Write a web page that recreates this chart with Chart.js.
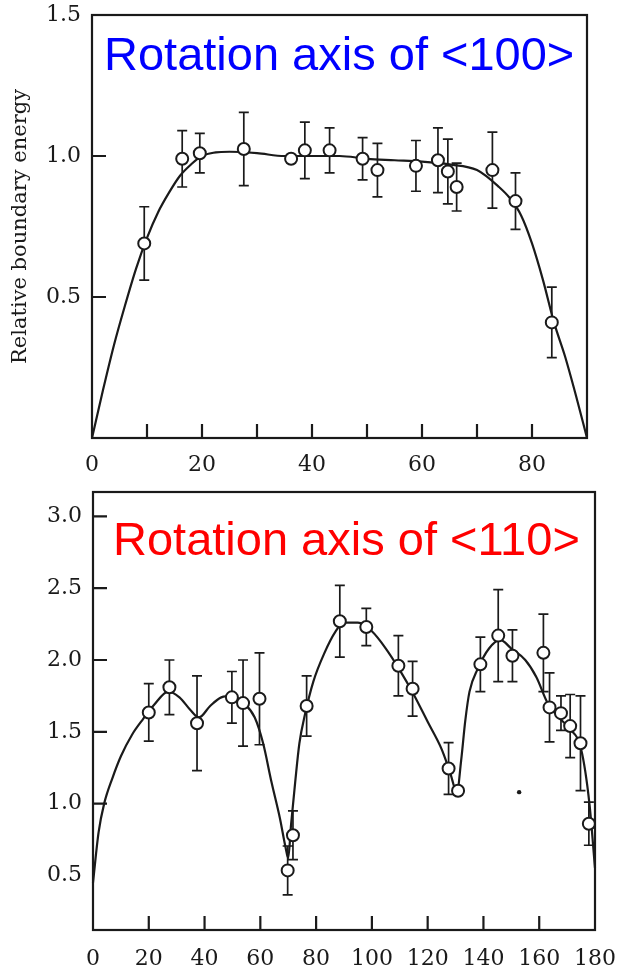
<!DOCTYPE html>
<html>
<head>
<meta charset="utf-8">
<script src="https://cdn.jsdelivr.net/npm/chart.js@4.4.1/dist/chart.umd.min.js"></script>
<style>
  body { margin: 0; background: #fff; width: 621px; height: 970px; position: relative; overflow: hidden; }
  canvas { position: absolute; left: 0; }
  #c100 { top: 0; }
  #c110 { top: 475px; }
  .title { position: absolute; font-family: "Liberation Sans", Arial, sans-serif; font-size: 47px; line-height: 47px; white-space: nowrap; }
</style>
</head>
<body>
<canvas id="c100" width="621" height="475"></canvas>
<canvas id="c110" width="621" height="495"></canvas>
<div class="title" style="left:104px; top:30px; color:#0000ff">Rotation axis of &lt;100&gt;</div>
<div class="title" style="left:113px; top:515px; color:#ff0000">Rotation axis of &lt;110&gt;</div>
<script>
// <100> measured points
const angles100 = [9.5, 16.4, 19.6, 27.6, 36.2, 38.7, 43.2, 49.2, 51.9, 58.9, 62.9, 64.7, 66.3, 72.8, 77.0, 83.6];
const energy100 = [0.69, 0.99, 1.01, 1.025, 0.99, 1.02, 1.02, 0.99, 0.95, 0.965, 0.985, 0.945, 0.89, 0.95, 0.84, 0.41];
const error100 = [0.13, 0.10, 0.07, 0.13, 0, 0.10, 0.08, 0.075, 0.095, 0.09, 0.115, 0.115, 0.085, 0.135, 0.10, 0.125];
// <100> fitted curve
const curveX100 = [0, 2, 4, 6, 8, 10, 12, 14, 16, 18, 20, 25, 30, 35, 40, 45, 50, 55, 60, 65, 70, 74, 76, 78, 80, 82, 84, 86, 88, 90];
const curveY100 = [0, 0.17, 0.33, 0.47, 0.6, 0.71, 0.8, 0.87, 0.93, 0.97, 1.0, 1.015, 1.01, 1.0, 1.0, 1.0, 0.99, 0.985, 0.98, 0.97, 0.95, 0.89, 0.85, 0.79, 0.69, 0.56, 0.41, 0.29, 0.15, 0];

// <110> measured points
const angles110 = [20, 27.4, 37.3, 49.8, 53.8, 59.7, 69.8, 71.7, 76.6, 88.5, 98, 109.5, 114.6, 127.5, 130.9, 138.9, 145.3, 150.4, 161.5, 163.7, 167.8, 171.1, 174.8, 177.8];
const energy110 = [1.635, 1.81, 1.56, 1.74, 1.70, 1.73, 0.535, 0.78, 1.68, 2.27, 2.23, 1.96, 1.80, 1.245, 1.09, 1.97, 2.17, 2.03, 2.05, 1.67, 1.63, 1.54, 1.42, 0.86];
const error110 = [0.2, 0.19, 0.33, 0.18, 0.3, 0.32, 0.17, 0.17, 0.21, 0.25, 0.13, 0.21, 0.19, 0.18, 0, 0.19, 0.32, 0.18, 0.27, 0.24, 0.12, 0.22, 0.33, 0.15];
const strayX110 = [152.8];
const strayY110 = [1.08];
// <110> fitted curve
const curveX110 = [0, 2, 4, 7, 10, 14, 18, 22, 27, 31, 35, 38, 42, 46, 50, 54, 58, 61, 64, 67, 69, 70, 71, 72.5, 74, 76, 79, 83, 87, 90, 95, 100, 105, 110, 115, 120, 125, 128, 130.5, 132, 133.5, 135, 138, 142, 146, 150, 155, 159, 163, 167, 171, 175, 178, 180];
const curveY110 = [0.45, 0.8, 1.0, 1.18, 1.33, 1.48, 1.59, 1.69, 1.78, 1.74, 1.65, 1.6, 1.68, 1.74, 1.75, 1.7, 1.6, 1.42, 1.15, 0.9, 0.7, 0.62, 0.85, 1.15, 1.42, 1.62, 1.85, 2.05, 2.2, 2.26, 2.26, 2.2, 2.08, 1.93, 1.76, 1.57, 1.38, 1.22, 1.08, 1.3, 1.58, 1.78, 1.94, 2.08, 2.14, 2.08, 2.0, 1.88, 1.7, 1.6, 1.52, 1.38, 1.0, 0.55];

// ticks
const xTicks100 = [0, 10, 20, 30, 40, 50, 60, 70, 80];
const yTicks100 = [0.5, 1.0, 1.5];
const xTicks110 = [0, 20, 40, 60, 80, 100, 120, 140, 160, 180];
const yTicks110 = [0.5, 1.0, 1.5, 2.0, 2.5, 3.0];

const serif = '"DejaVu Serif", "Liberation Serif", serif';
const ink = '#1a1a1a';

const zip = (xs, ys) => xs.map((x, i) => ({ x, y: ys[i] }));

// box, inward tick marks and error bars
const frame = {
  id: 'frame',
  beforeDatasetsDraw(chart, args, opts) {
    const { ctx, chartArea: a, scales: { x, y } } = chart;
    ctx.save();
    ctx.strokeStyle = ink;
    ctx.lineWidth = 2.2;
    ctx.strokeRect(a.left, a.top, a.right - a.left, a.bottom - a.top);
    ctx.beginPath();
    opts.xMarks.forEach(v => {
      const px = x.getPixelForValue(v);
      ctx.moveTo(px, a.bottom);
      ctx.lineTo(px, a.bottom - opts.len);
    });
    opts.yMarks.forEach(v => {
      const py = y.getPixelForValue(v);
      ctx.moveTo(a.left, py);
      ctx.lineTo(a.left + opts.len, py);
    });
    ctx.stroke();
    ctx.restore();
  },
  beforeDatasetDraw(chart, args) {
    const ds = chart.data.datasets[args.index];
    if (!ds.errors) return;
    const { ctx, scales: { x, y } } = chart;
    ctx.save();
    ctx.strokeStyle = ink;
    ctx.lineWidth = 1.7;
    ctx.beginPath();
    ds.data.forEach((p, i) => {
      const e = ds.errors[i];
      if (!e) return;
      const px = x.getPixelForValue(p.x);
      const top = y.getPixelForValue(p.y + e);
      const bot = y.getPixelForValue(p.y - e);
      ctx.moveTo(px, top); ctx.lineTo(px, bot);
      ctx.moveTo(px - 5, top); ctx.lineTo(px + 5, top);
      ctx.moveTo(px - 5, bot); ctx.lineTo(px + 5, bot);
    });
    ctx.stroke();
    ctx.restore();
  },
};

function makeChart(id, cfg) {
  const tickFont = { family: serif, size: 22 };
  return new Chart(document.getElementById(id), {
    type: 'scatter',
    data: {
      datasets: [
        {
          data: zip(cfg.angles, cfg.energy),
          errors: cfg.errors,
          order: 0,
          pointRadius: 6,
          pointBackgroundColor: '#fff',
          pointBorderColor: ink,
          pointBorderWidth: 2,
          clip: false,
        },
        ...(cfg.extra || []),
        {
          data: zip(cfg.curveX, cfg.curveY),
          showLine: true,
          pointRadius: 0,
          borderColor: ink,
          borderWidth: 2.2,
          cubicInterpolationMode: 'monotone',
          order: 2,
          clip: false,
        },
      ],
    },
    options: {
      responsive: false,
      animation: false,
      layout: { padding: cfg.padding },
      plugins: {
        legend: { display: false },
        tooltip: { enabled: false },
        frame: { xMarks: cfg.xMarks, yMarks: cfg.yMarks, len: 14 },
      },
      scales: {
        x: {
          type: 'linear',
          min: cfg.xMin,
          max: cfg.xMax,
          grid: { display: false, drawTicks: false },
          border: { display: false },
          afterBuildTicks: s => { s.ticks = cfg.xTicks.map(v => ({ value: v })); },
          afterFit: s => { s.height = cfg.xHeight; s.paddingLeft = 0; s.paddingRight = 0; },
          ticks: {
            font: tickFont,
            color: ink,
            padding: cfg.xPad,
            autoSkip: false,
            maxRotation: 0,
            callback: cfg.xLabel,
          },
        },
        y: {
          type: 'linear',
          min: cfg.yMin,
          max: cfg.yMax,
          grid: { display: false, drawTicks: false },
          border: { display: false },
          afterBuildTicks: s => { s.ticks = cfg.yTicks.map(v => ({ value: v })); },
          afterFit: s => { s.width = cfg.yWidth; s.paddingTop = 0; s.paddingBottom = 0; },
          ticks: {
            font: tickFont,
            color: ink,
            padding: 11,
            callback: v => v.toFixed(1),
          },
          title: cfg.yTitle
            ? { display: true, text: cfg.yTitle, color: ink, font: { family: serif, size: 21 }, padding: { top: 8, bottom: 0 } }
            : { display: false },
        },
      },
    },
    plugins: [frame],
  });
}

makeChart('c100', {
  angles: angles100, energy: energy100, errors: error100,
  curveX: curveX100, curveY: curveY100,
  xMin: 0, xMax: 90, yMin: 0, yMax: 1.5,
  xTicks: xTicks100, yTicks: yTicks100,
  xLabel: v => (v % 20 === 0 ? String(v) : ''),
  xMarks: xTicks100.slice(1), yMarks: [0.5, 1.0],
  padding: { top: 15, right: 34, left: 0, bottom: 0 },
  xHeight: 37, yWidth: 92, xPad: 14,
  yTitle: 'Relative boundary energy',
});

makeChart('c110', {
  angles: angles110, energy: energy110, errors: error110,
  curveX: curveX110, curveY: curveY110,
  extra: [{
    data: zip(strayX110, strayY110),
    order: 1,
    pointRadius: 2.2,
    pointBackgroundColor: ink,
    pointBorderWidth: 0,
  }],
  xMin: 0, xMax: 180, yMin: 0.12, yMax: 3.17,
  xTicks: xTicks110, yTicks: yTicks110,
  xLabel: v => String(v),
  xMarks: xTicks110.slice(1, -1), yMarks: [1.0, 1.5, 2.0, 2.5, 3.0],
  padding: { top: 17, right: 26, left: 0, bottom: 0 },
  xHeight: 40, yWidth: 93, xPad: 16,
});
</script>
</body>
</html>
